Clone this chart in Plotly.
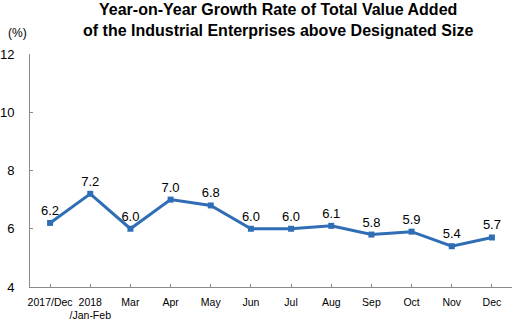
import plotly.graph_objects as go

months = ["2017/Dec", "2018<br>/Jan-Feb", "Mar", "Apr", "May", "Jun",
          "Jul", "Aug", "Sep", "Oct", "Nov", "Dec"]
growth = [6.2, 7.2, 6.0, 7.0, 6.8, 6.0, 6.0, 6.1, 5.8, 5.9, 5.4, 5.7]
y_ticks = [4, 6, 8, 10, 12]

line_color = "#2F6EB5"
sans = "Liberation Sans, Arial"

fig = go.Figure()
fig.add_trace(go.Scatter(
    x=list(range(len(months))),
    y=growth,
    mode="lines+markers+text",
    line=dict(color=line_color, width=3),
    marker=dict(symbol="square", size=6, color=line_color),
    text=[f"{v:.1f}" for v in growth],
    textposition="top center",
    textfont=dict(family=sans, size=13, color="#000000"),
    cliponaxis=False,
    hoverinfo="skip",
))

fig.update_layout(
    width=520, height=323,
    margin=dict(l=30, r=8, t=54, b=36),
    paper_bgcolor="white", plot_bgcolor="white",
    showlegend=False,
    annotations=[
        dict(
            text="<b>Year-on-Year Growth Rate of Total Value Added<br>"
                 "of the Industrial Enterprises above Designated Size</b>",
            x=0.514, y=1.148, xref="paper", yref="paper",
            xanchor="center", yanchor="middle", showarrow=False,
            font=dict(family=sans, size=16, color="#000000"),
        ),
        dict(
            text="(%)", x=-0.026, y=1.09, xref="paper", yref="paper",
            xanchor="center", yanchor="middle", showarrow=False,
            font=dict(family=sans, size=12, color="#000000"),
        ),
    ],
)

fig.update_xaxes(
    tickmode="array",
    tickvals=list(range(len(months))),
    ticktext=months,
    range=[-0.5, len(months) - 0.5],
    showline=True, linecolor="#898989", linewidth=1,
    ticks="inside", ticklen=3, tickcolor="#898989",
    tickson="boundaries",
    tickangle=0,
    automargin=False,
    showgrid=False, zeroline=False,
    tickfont=dict(family=sans, size=10.5, color="#000000"),
    ticklabelstandoff=5,
)
fig.update_yaxes(
    range=[4, 12],
    tickvals=y_ticks,
    showline=True, linecolor="#898989", linewidth=1,
    ticks="inside", ticklen=3, tickcolor="#898989",
    showgrid=False, zeroline=False,
    automargin=False,
    tickfont=dict(family=sans, size=13, color="#000000"),
    ticklabelstandoff=12,
)

fig.write_html("out.html")
